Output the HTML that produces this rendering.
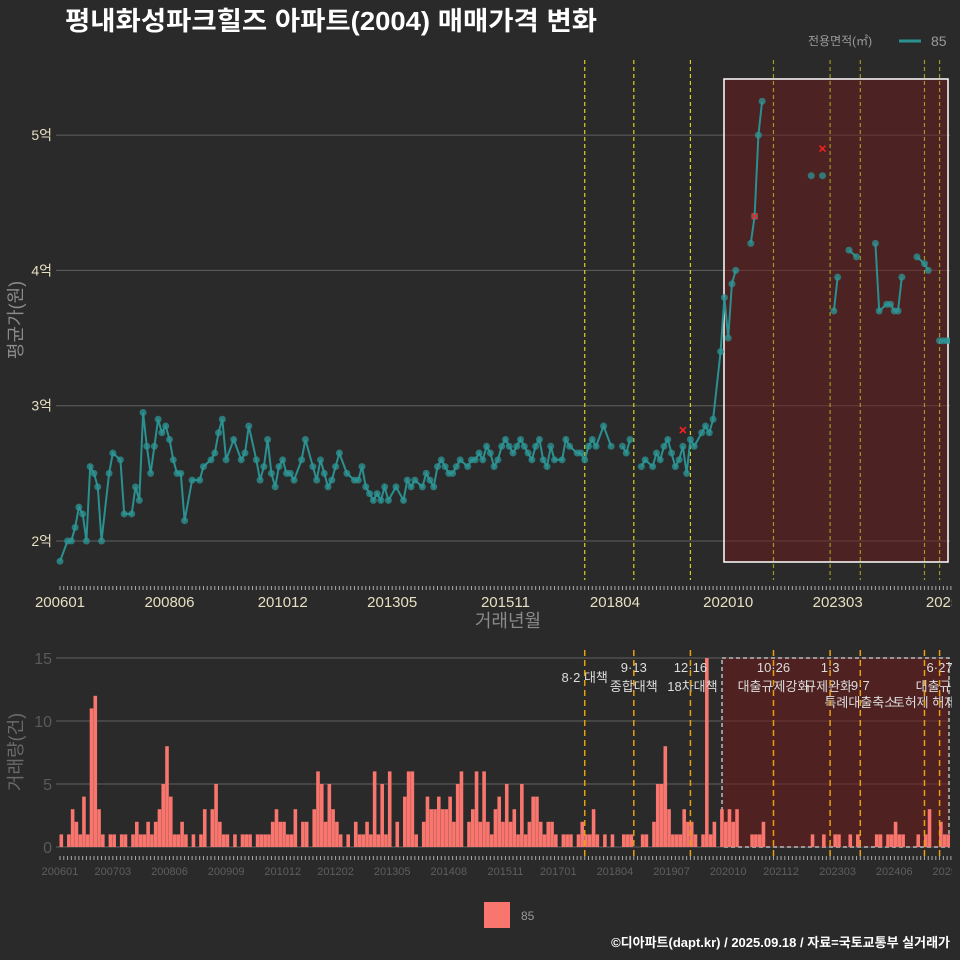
<!DOCTYPE html>
<html><head><meta charset="utf-8">
<style>
html,body{margin:0;padding:0;background:#2a2a2a;}
svg{display:block;font-family:"Liberation Sans","Noto Sans CJK KR",sans-serif;}
</style></head>
<body>
<svg id="chart" width="960" height="960" viewBox="0 0 960 960" xmlns="http://www.w3.org/2000/svg">
<rect width="960" height="960" fill="#2a2a2a"/>
<text x="65" y="30" fill="#ffffff" font-size="26" font-weight="bold" textLength="532" lengthAdjust="spacingAndGlyphs">평내화성파크힐즈 아파트(2004) 매매가격 변화</text>
<text x="808" y="45" fill="#9a9a9a" font-size="12">전용면적(㎡)</text>
<line x1="899" y1="41" x2="921" y2="41" stroke="#2a9090" stroke-width="3"/>
<text x="931" y="46" fill="#9a9a9a" font-size="14">85</text>
<g id="topG"></g>
<g id="botG"></g>
<rect x="484" y="902" width="26" height="26" fill="#f8766d"/>
<text x="521" y="920" fill="#9a9a9a" font-size="12">85</text>
<text x="950" y="947" fill="#ffffff" font-size="13" font-weight="bold" text-anchor="end">©디아파트(dapt.kr) / 2025.09.18 / 자료=국토교통부 실거래가</text>
</svg>
<script>
// months from 2006-01, index 0..236
const volumes = [
1,0,1,3,2,1,4,1,11,12,3,1,
0,1,1,0,1,1,0,1,2,1,1,2,
1,2,3,5,8,4,1,1,2,1,0,1,
0,1,3,0,3,5,2,1,1,0,1,0,
1,1,1,0,1,1,1,1,2,3,2,2,
1,1,3,0,2,2,0,3,6,5,2,5,
3,2,1,0,1,0,2,1,1,2,1,6,
1,5,1,6,0,2,0,4,6,6,1,0,
2,4,3,3,4,3,3,4,2,5,6,0,
2,3,6,2,6,2,1,3,4,2,5,2,
3,1,5,1,2,4,4,2,1,2,2,1,
0,1,1,1,0,1,2,1,1,3,1,0,
1,0,1,0,0,1,1,1,0,0,1,1,
0,2,5,5,8,3,1,1,1,3,2,2,
1,0,1,15,1,2,0,3,2,3,2,3,
0,0,0,1,1,1,2,0,0,0,0,0,
0,0,0,0,0,0,0,1,0,0,1,0,
0,1,1,0,0,1,0,1,0,0,0,0,
1,1,0,1,1,2,1,1,0,0,0,1,
0,1,3,0,0,2,1,1,2];
const prices = [
1.85,1.9,2.0,2.0,2.1,2.25,2.2,2.0,2.55,2.5,2.4,2.0,
2.4,2.5,2.65,2.8,2.6,2.2,2.9,2.2,2.4,2.3,2.95,2.7,
2.5,2.7,2.9,2.8,2.85,2.75,2.6,2.5,2.5,2.15,2.4,2.45,
2.5,2.45,2.55,2.35,2.6,2.65,2.8,2.9,2.6,2.7,2.75,2.7,
2.6,2.65,2.85,2.5,2.6,2.45,2.55,2.75,2.5,2.4,2.55,2.6,
2.5,2.5,2.45,2.55,2.6,2.75,2.5,2.55,2.45,2.6,2.5,2.4,
2.45,2.55,2.65,2.6,2.5,2.5,2.45,2.45,2.55,2.4,2.35,2.3,
2.35,2.3,2.4,2.3,2.35,2.4,2.35,2.3,2.45,2.4,2.45,2.35,
2.4,2.5,2.45,2.4,2.55,2.6,2.55,2.5,2.5,2.55,2.6,2.55,
2.55,2.6,2.6,2.65,2.6,2.7,2.65,2.55,2.6,2.7,2.75,2.7,
2.65,2.7,2.75,2.7,2.65,2.6,2.7,2.75,2.6,2.55,2.7,2.6,
2.65,2.6,2.75,2.7,2.7,2.65,2.65,2.6,2.7,2.75,2.7,2.75,
2.85,2.75,2.7,2.65,2.6,2.7,2.65,2.75,2.7,2.8,2.55,2.6,
2.6,2.55,2.65,2.6,2.7,2.75,2.65,2.55,2.6,2.7,2.5,2.75,
2.7,2.75,2.8,2.85,2.8,2.9,3.0,3.4,3.8,3.5,3.9,4.0,
4.0,4.0,4.1,4.2,4.4,5.0,5.25,5.25,5.25,5.25,5.25,5.25,
4.7,4.7,4.7,4.7,4.7,4.7,4.7,4.7,4.7,4.7,4.7,4.7,
3.7,3.7,3.95,4.0,4.0,4.15,4.1,4.1,4.1,4.1,4.1,4.1,
4.2,3.7,3.75,3.75,3.75,3.7,3.7,3.95,3.95,3.95,3.9,4.1,
4.1,4.05,4.0,3.95,3.9,3.48,3.48,3.48,3.48];
const cancelledMonths = [165, 184, 202];
const cancelledPrices = [2.82, 4.4, 4.9];
const priceTicks = [2,3,4,5];
const priceTickLabels = ["2억","3억","4억","5억"];
const volTicks = [0,5,10,15];
const topLabelMonths = [0,29,59,88,118,147,177,206,236];
const topLabels = ["200601","200806","201012","201305","201511","201804","202010","202303","202509"];
const botLabelMonths = [0,14,29,44,59,73,88,103,118,132,147,162,177,191,206,221,236];
const botLabels = ["200601","200703","200806","200909","201012","201202","201305","201408","201511","201701","201804","201907","202010","202112","202303","202406","202509"];
const policyMonths = [139,152,167,189,204,212,229,233];
const policyDates = ["8·2 대책","9·13","12·16","10·26","1·3","9·7","","6·27"];
const policyNames = ["","종합대책","18차대책","대출규제강화","규제완화","특례대출축소","토허제 해제","대출규제"];

const NS="http://www.w3.org/2000/svg";
function mk(parent,tag,attrs){const e=document.createElementNS(NS,tag);for(const k in attrs)e.setAttribute(k,attrs[k]);parent.appendChild(e);return e;}
const xM = m => 60 + m*3.775;
const yP = p => 541 - (p-2)*135.3;
const yV = v => 847 - v*12.6;
const topG=document.getElementById('topG'), botG=document.getElementById('botG');

const defs=mk(document.getElementById('chart'),'defs',{});
const cp=mk(defs,'clipPath',{id:'clipTop'});mk(cp,'rect',{x:40,y:50,width:910,height:530});
const cb=mk(defs,'clipPath',{id:'clipBot'});mk(cb,'rect',{x:40,y:640,width:910,height:215});
const cl=mk(defs,'clipPath',{id:'clipLab'});mk(cl,'rect',{x:0,y:0,width:952,height:960});

priceTicks.forEach((t,i)=>{
  let g=mk(topG,'line',{x1:56,x2:950,y1:yP(t),y2:yP(t),stroke:'#606060','stroke-width':1});
  
  
  let tx=mk(topG,'text',{x:52,y:yP(t)+5,fill:'#e6dfc0','font-size':14,'text-anchor':'end'});tx.textContent=priceTickLabels[i];
  
  
});
let rr=mk(topG,'rect',{x:724,y:79,width:224,height:483,fill:'rgba(110,25,25,0.5)',stroke:'#ffffff','stroke-width':1.5});


policyMonths.forEach((m,i)=>{
  let l=mk(topG,'line',{x1:xM(m),x2:xM(m),y1:60,y2:580,stroke:i<3?'#d8d020':'#a09a20','stroke-width':1.2,'stroke-dasharray':'4,3'});
  
  
});
for(let m=0;m<=236;m++){let t=mk(topG,'line',{x1:xM(m),x2:xM(m),y1:586,y2:590,stroke:'#aaaaaa','stroke-width':1});
  
  }
const lt=mk(topG,'g',{'clip-path':'url(#clipLab)'});
topLabelMonths.forEach((m,i)=>{let tx=mk(lt,'text',{x:xM(m),y:607,fill:'#e6dfc0','font-size':15,'text-anchor':'middle'});tx.textContent=topLabels[i];
  
  });
let xt=mk(topG,'text',{x:508,y:627,fill:'#8a8a8a','font-size':18,'text-anchor':'middle'});xt.textContent='거래년월';


let yt=mk(topG,'text',{x:22,y:320,fill:'#8a8a8a','font-size':18,'text-anchor':'middle',transform:'rotate(-90 22 320)'});yt.textContent='평균가(원)';


const sg=mk(topG,'g',{'clip-path':'url(#clipTop)'});
let d='';let prev=-99;
for(let m=0;m<prices.length;m++){ if(volumes[m]>0){d+=(m-prev>2?'M':'L')+xM(m).toFixed(1)+','+yP(prices[m]).toFixed(1);prev=m;} }
let pl=mk(sg,'path',{d:d,fill:'none',stroke:'#2a9090','stroke-width':2});


for(let m=0;m<prices.length;m++){ if(volumes[m]>0){
  let c=mk(sg,'circle',{cx:xM(m),cy:yP(prices[m]),r:3.5,fill:'rgba(45,150,150,0.75)'});
  
  
}}
cancelledMonths.forEach((m,i)=>{let x=xM(m),y=yP(cancelledPrices[i]);
  let p=mk(sg,'path',{d:`M${x-3},${y-3}L${x+3},${y+3}M${x-3},${y+3}L${x+3},${y-3}`,stroke:'#ff2020','stroke-width':1.5});
  
  });

volTicks.forEach(t=>{
  let g=mk(botG,'line',{x1:56,x2:950,y1:yV(t),y2:yV(t),stroke:'#606060','stroke-width':1});
  
  
  let tx=mk(botG,'text',{x:52,y:yV(t)+6,fill:'#5a5a5a','font-size':16,'text-anchor':'end'});tx.textContent=String(t);
  
  
});
let br=mk(botG,'rect',{x:722,y:658,width:227,height:189,fill:'rgba(110,25,25,0.55)',stroke:'#bbbbbb','stroke-width':1.5,'stroke-dasharray':'4,3'});


const bg=mk(botG,'g',{'clip-path':'url(#clipBot)'});
volumes.forEach((v,m)=>{ if(v>0){
  let r=mk(bg,'rect',{x:xM(m)-0.5,y:yV(v),width:3.6,height:847-yV(v),fill:'#f8766d'});
  
  
}});
const dateY=[682,672,672,672,672,690,672,672];
const nameY=[0,691,691,691,691,707,707,691];
const nameDx=[0,0,2,0,-2,0,0,0];
const ann=mk(botG,'g',{'clip-path':'url(#clipLab)'});
policyMonths.forEach((m,i)=>{
  let l=mk(botG,'line',{x1:xM(m),x2:xM(m),y1:650,y2:857,stroke:'#e8a010','stroke-width':1.5,'stroke-dasharray':'6,4'});
  
  
  if(policyDates[i]){let t=mk(ann,'text',{x:xM(m),y:dateY[i],fill:'#dddddd','font-size':13,'text-anchor':'middle'});t.textContent=policyDates[i];
    
    }
  if(policyNames[i]){
    let t=mk(ann,'text',{x:xM(m)+nameDx[i],y:nameY[i],fill:'#dddddd','font-size':13,'text-anchor':'middle'});t.textContent=policyNames[i];
    
    }
});
for(let m=0;m<=236;m++){let t=mk(botG,'line',{x1:xM(m),x2:xM(m),y1:856,y2:860,stroke:'#aaaaaa','stroke-width':1});
  
  }
const lb=mk(botG,'g',{'clip-path':'url(#clipLab)'});
botLabelMonths.forEach((m,i)=>{let tx=mk(lb,'text',{x:xM(m),y:875,fill:'#5e5e5e','font-size':11,'text-anchor':'middle'});tx.textContent=botLabels[i];
  
  });
let vt=mk(botG,'text',{x:22,y:752,fill:'#6a6a6a','font-size':18,'text-anchor':'middle',transform:'rotate(-90 22 752)'});vt.textContent='거래량(건)';


</script>
</body></html>
